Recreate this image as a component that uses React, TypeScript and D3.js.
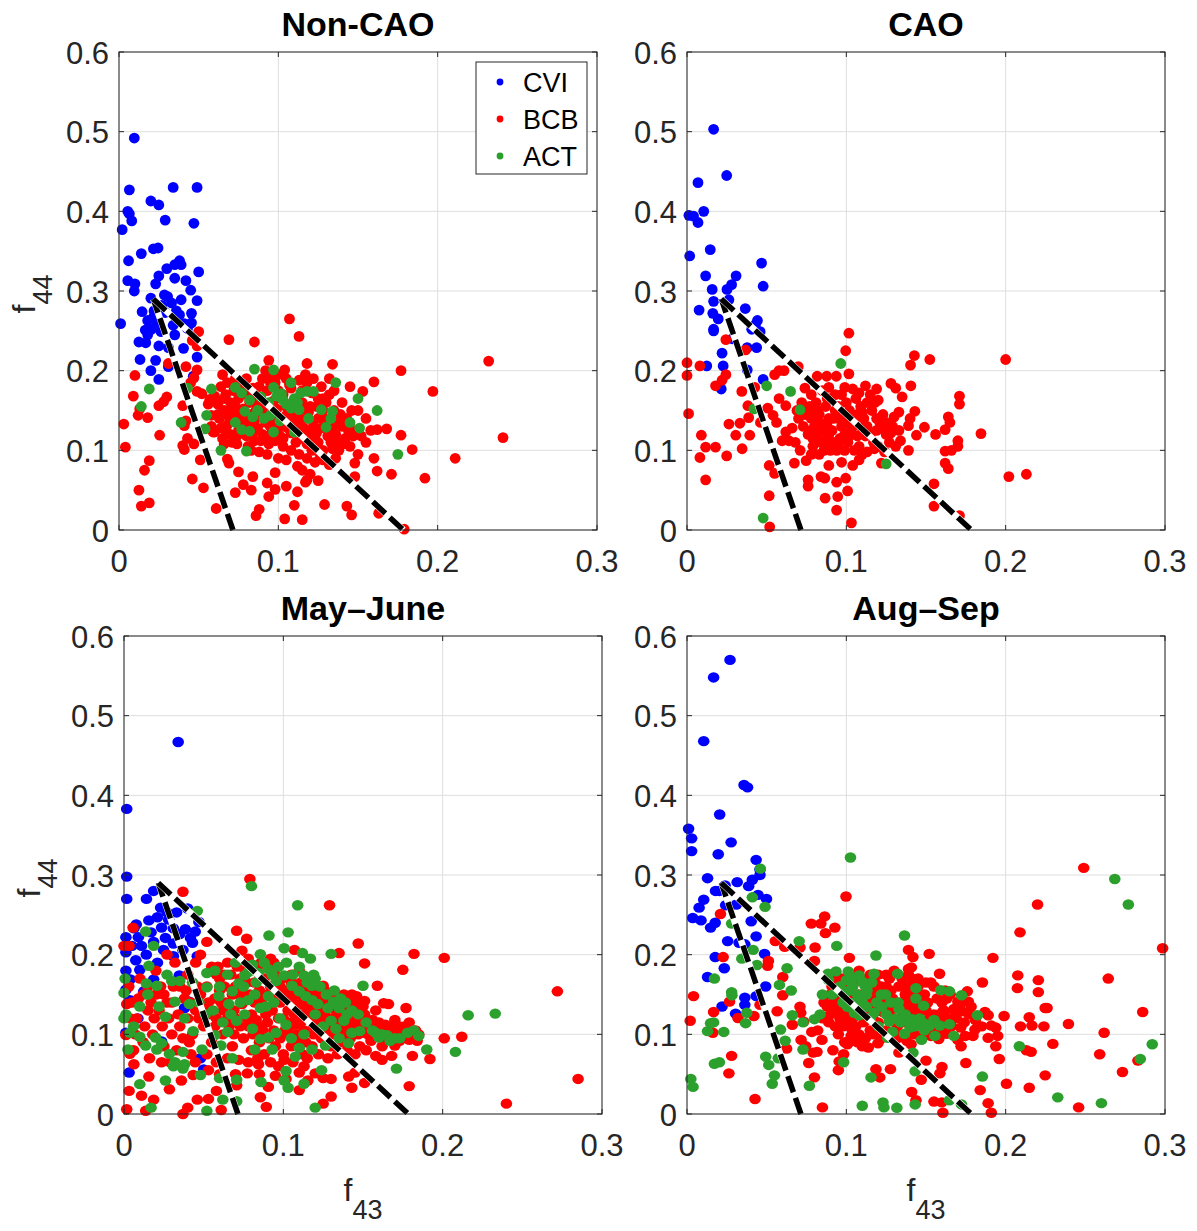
import React from 'react';
import * as d3 from 'd3';

type P = [number, number];

// ---------- shared axis / legend data ----------
const xTicks = [0, 0.1, 0.2, 0.3];
const yTicks = [0, 0.1, 0.2, 0.3, 0.4, 0.5, 0.6];
const seriesNames = ['CVI', 'BCB', 'ACT'];
const seriesColors = ['#0000ff', '#ff0000', '#2ca02c'];
const panelTitles = ['Non-CAO', 'CAO', 'May\u2013June', 'Aug\u2013Sep'];
const triangleApex: P = [0.0215, 0.29];
const triangleLeftBase: P = [0.0715, 0];
const triangleRightBase: P = [0.1785, 0];

// ---------- Non-CAO ----------
const nonCaoCVI: P[] = [
  [0.0096,0.492],[0.0065,0.427],[0.034,0.430],[0.049,0.430],[0.0055,0.400],[0.0065,0.397],[0.008,0.388],[0.020,0.413],[0.025,0.408],[0.029,0.389],[0.047,0.385],[0.002,0.377],[0.014,0.347],[0.006,0.338],[0.0216,0.353],[0.0245,0.354],[0.030,0.328],[0.035,0.333],[0.038,0.338],[0.039,0.333],[0.050,0.324],[0.0055,0.313],[0.010,0.309],[0.0096,0.300],[0.025,0.319],[0.023,0.309],[0.035,0.316],[0.042,0.313],[0.045,0.301],[0.0285,0.295],[0.020,0.291],[0.0305,0.293],[0.039,0.289],[0.049,0.288],[0.001,0.259],[0.0145,0.274],[0.0216,0.267],[0.029,0.273],[0.036,0.275],[0.038,0.270],[0.0455,0.272],[0.018,0.263],[0.024,0.260],[0.041,0.259],[0.0455,0.260],[0.0165,0.251],[0.0205,0.252],[0.035,0.245],[0.043,0.253],[0.0125,0.236],[0.0168,0.235],[0.025,0.231],[0.031,0.229],[0.0405,0.228],[0.049,0.217],[0.0132,0.214],[0.023,0.213],[0.020,0.200],[0.025,0.189],[0.031,0.205],[0.0466,0.193],[0.0264,0.249],[0.034,0.257],[0.027,0.282],[0.033,0.285],[0.022,0.275],[0.018,0.245],[0.037,0.262]
];
const nonCaoBCB: P[] = [
  [0.107,0.265],[0.113,0.243],[0.085,0.236],[0.069,0.239],[0.232,0.212],[0.177,0.200],[0.197,0.174],[0.241,0.116],[0.211,0.090],[0.184,0.101],[0.192,0.065],[0.179,0.001],[0.160,0.186],[0.153,0.174],[0.145,0.180],[0.134,0.208],[0.118,0.209],[0.094,0.213],[0.104,0.201],[0.168,0.127],[0.177,0.119],[0.171,0.070],[0.162,0.074],[0.160,0.090],[0.162,0.126],[0.148,0.084],[0.148,0.067],[0.143,0.030],[0.146,0.019],[0.163,0.021],[0.129,0.032],[0.115,0.013],[0.104,0.014],[0.110,0.031],[0.086,0.018],[0.088,0.026],[0.093,0.059],[0.094,0.042],[0.098,0.051],[0.098,0.072],[0.084,0.067],[0.078,0.057],[0.083,0.050],[0.073,0.047],[0.075,0.073],[0.068,0.089],[0.069,0.084],[0.061,0.027],[0.053,0.053],[0.046,0.064],[0.051,0.088],[0.041,0.101],[0.040,0.106],[0.043,0.115],[0.047,0.108],[0.059,0.123],[0.042,0.137],[0.040,0.156],[0.041,0.131],[0.019,0.087],[0.016,0.075],[0.0125,0.050],[0.014,0.030],[0.019,0.034],[0.0255,0.119],[0.018,0.141],[0.012,0.144],[0.013,0.152],[0.009,0.168],[0.010,0.194],[0.003,0.133],[0.004,0.104],[0.025,0.156],[0.028,0.161],[0.030,0.167],[0.031,0.209],[0.042,0.205],[0.049,0.201],[0.050,0.249],[0.049,0.231],[0.046,0.238],[0.049,0.174],[0.052,0.171],[0.045,0.185],[0.047,0.191],[0.058,0.130],[0.058,0.144],[0.056,0.158],[0.057,0.164],
  [0.115,0.075],[0.118,0.063],[0.105,0.055],[0.112,0.048],[0.128,0.088],[0.134,0.102],
  [0.065,0.195],[0.068,0.185],[0.072,0.175],[0.075,0.165],[0.070,0.160],[0.066,0.150],[0.063,0.140],[0.068,0.132],[0.072,0.145],[0.078,0.152],[0.082,0.160],[0.085,0.170],[0.088,0.180],[0.090,0.190],[0.092,0.200],[0.095,0.195],[0.098,0.185],[0.100,0.175],[0.102,0.165],[0.105,0.155],[0.108,0.145],[0.110,0.135],[0.112,0.125],[0.115,0.115],[0.118,0.108],[0.120,0.120],[0.122,0.130],[0.125,0.140],[0.128,0.150],[0.130,0.160],[0.132,0.170],[0.127,0.180],[0.122,0.190],[0.118,0.185],[0.115,0.175],[0.112,0.165],[0.110,0.155],[0.106,0.148],[0.100,0.140],[0.095,0.130],[0.090,0.120],[0.085,0.112],[0.080,0.118],[0.075,0.125],[0.070,0.120],[0.065,0.115],[0.062,0.158],[0.060,0.168],[0.078,0.138],[0.083,0.145],[0.088,0.150],[0.093,0.158],[0.097,0.162],[0.103,0.170],[0.108,0.178],[0.113,0.188],[0.117,0.195],[0.098,0.112],[0.103,0.105],[0.108,0.100],[0.113,0.095],[0.118,0.090],[0.123,0.085],[0.128,0.100],[0.133,0.110],[0.136,0.120],[0.140,0.130],[0.143,0.140],[0.146,0.150],[0.149,0.125],[0.152,0.118],[0.155,0.110],[0.138,0.100],[0.142,0.115],[0.130,0.128],[0.125,0.110],[0.118,0.140],[0.113,0.148],[0.108,0.122],[0.103,0.130],[0.096,0.145],[0.092,0.135],[0.087,0.128],[0.082,0.133],[0.077,0.148],[0.073,0.155],[0.069,0.142],[0.064,0.128],[0.060,0.123],[0.066,0.108],[0.071,0.110],[0.081,0.105],[0.088,0.098],[0.094,0.108],[0.100,0.090],[0.105,0.088],[0.112,0.080],[0.120,0.070],[0.125,0.062],[0.117,0.060],[0.132,0.082],[0.136,0.090],[0.145,0.105],[0.150,0.095],[0.135,0.150],[0.140,0.160],[0.132,0.190],[0.125,0.165],[0.120,0.155],[0.115,0.160],[0.105,0.190],[0.100,0.195],[0.093,0.175],[0.087,0.160],[0.080,0.170],[0.078,0.182],[0.073,0.190],[0.080,0.190],[0.067,0.125],[0.086,0.140],[0.091,0.145],[0.099,0.152],[0.111,0.110],[0.124,0.122],[0.137,0.135],[0.144,0.125],[0.155,0.140],[0.158,0.125],[0.150,0.150],
  [0.062,0.145],[0.066,0.165],[0.071,0.138],[0.074,0.118],[0.079,0.128],[0.084,0.122],[0.089,0.112],[0.094,0.118],[0.099,0.128],[0.104,0.142],[0.109,0.160],[0.114,0.155],[0.119,0.148],[0.124,0.155],[0.129,0.140],[0.134,0.128],[0.139,0.145],[0.141,0.108],[0.126,0.095],[0.121,0.100],[0.116,0.128],[0.111,0.145],[0.106,0.128],[0.101,0.118],[0.096,0.138],[0.091,0.155],[0.086,0.150],[0.081,0.145],[0.076,0.138],[0.071,0.150],[0.067,0.170],[0.064,0.180],[0.074,0.108],[0.083,0.100],[0.093,0.095],[0.103,0.115],[0.108,0.135],[0.113,0.138],[0.118,0.120],[0.123,0.115],[0.131,0.118],[0.137,0.110],[0.147,0.118],[0.127,0.128],[0.097,0.150],[0.089,0.165],[0.084,0.178],[0.095,0.185],[0.107,0.182],[0.121,0.172],[0.128,0.165],[0.135,0.175]
];
const nonCaoACT: P[] = [
  [0.019,0.177],[0.014,0.155],[0.039,0.135],[0.043,0.178],[0.058,0.177],[0.055,0.144],[0.054,0.127],[0.064,0.100],[0.080,0.099],[0.085,0.202],[0.097,0.201],[0.073,0.179],[0.077,0.172],[0.082,0.163],[0.079,0.149],[0.073,0.135],[0.077,0.126],[0.082,0.124],[0.084,0.142],[0.089,0.167],[0.094,0.160],[0.097,0.179],[0.102,0.171],[0.103,0.163],[0.108,0.185],[0.110,0.165],[0.114,0.172],[0.118,0.174],[0.122,0.174],[0.108,0.153],[0.113,0.151],[0.101,0.137],[0.097,0.123],[0.110,0.123],[0.119,0.140],[0.127,0.151],[0.134,0.149],[0.136,0.185],[0.130,0.129],[0.133,0.140],[0.145,0.135],[0.150,0.165],[0.151,0.128],[0.162,0.150],[0.175,0.095],[0.095,0.144],[0.091,0.140],[0.105,0.158],[0.112,0.160],[0.099,0.168],[0.087,0.150]
];

// ---------- CAO ----------
const caoCVI: P[] = [
  [0.0167,0.503],[0.0249,0.445],[0.0069,0.436],[0.0012,0.395],[0.0041,0.394],[0.0069,0.386],[0.0105,0.400],[0.0017,0.344],[0.0146,0.352],[0.0468,0.335],[0.0478,0.306],[0.0117,0.319],[0.0308,0.319],[0.0158,0.302],[0.0251,0.302],[0.028,0.308],[0.0167,0.287],[0.0263,0.289],[0.0076,0.276],[0.0366,0.278],[0.0162,0.272],[0.0196,0.265],[0.0167,0.252],[0.0167,0.250],[0.0442,0.263],[0.043,0.258],[0.0406,0.252],[0.0459,0.249],[0.0284,0.240],[0.0378,0.229],[0.0437,0.229],[0.022,0.222],[0.0124,0.206],[0.0227,0.206],[0.0378,0.201],[0.0478,0.189],[0.0215,0.177]
];
const caoBCB: P[] = [
  [0.1016,0.247],[0.0996,0.225],[0.1427,0.219],[0.1524,0.214],[0.1403,0.207],[0.200,0.214],[0.1016,0.196],[0.0244,0.239],[0.0368,0.226],[0.0,0.210],[0.0,0.194],[0.0081,0.206],[0.001,0.146],[0.009,0.119],[0.0081,0.091],[0.0117,0.104],[0.0179,0.104],[0.0117,0.063],[0.0249,0.093],[0.0346,0.102],[0.0179,0.181],[0.022,0.188],[0.0244,0.195],[0.0263,0.133],[0.0306,0.119],[0.0344,0.174],[0.0394,0.119],[0.0332,0.134],[0.0382,0.156],[0.0387,0.141],[0.0425,0.179],[0.0461,0.135],[0.0507,0.153],[0.054,0.144],[0.0516,0.081],[0.055,0.071],[0.0516,0.043],[0.0519,0.004],[0.0562,0.135],[0.055,0.195],[0.0578,0.200],[0.0609,0.200],[0.0578,0.165],[0.062,0.156],[0.062,0.123],[0.0597,0.112],[0.064,0.112],[0.0674,0.084],[0.0698,0.205],[0.0748,0.087],[0.076,0.063],[0.076,0.055],[0.0867,0.040],[0.0841,0.067],[0.0865,0.065],[0.089,0.081],[0.0939,0.060],[0.0946,0.042],[0.0939,0.025],[0.0996,0.065],[0.1008,0.049],[0.1032,0.009],[0.097,0.085],[0.104,0.081],[0.108,0.088],[0.110,0.095],[0.122,0.084],[0.1176,0.102],[0.139,0.100],[0.134,0.112],[0.144,0.119],[0.149,0.129],[0.156,0.120],[0.162,0.126],[0.165,0.135],[0.164,0.142],[0.162,0.099],[0.166,0.100],[0.170,0.105],[0.170,0.112],[0.171,0.158],[0.171,0.168],[0.1845,0.121],[0.162,0.084],[0.164,0.077],[0.155,0.058],[0.155,0.030],[0.171,0.018],[0.202,0.067],[0.213,0.070],[0.128,0.184],[0.131,0.178],[0.135,0.167],[0.1405,0.181],[0.143,0.149],[0.140,0.140],[0.139,0.131],[0.133,0.148],[0.130,0.142],[0.120,0.163],[0.119,0.177],[0.112,0.181],[0.108,0.172],[0.104,0.177],[0.099,0.179],[0.0937,0.193],[0.0877,0.193],[0.0817,0.193],[0.089,0.179],
  [0.072,0.160],[0.075,0.150],[0.078,0.140],[0.080,0.130],[0.082,0.120],[0.084,0.110],[0.086,0.100],[0.076,0.120],[0.073,0.130],[0.070,0.140],[0.068,0.110],[0.071,0.100],[0.079,0.105],[0.083,0.145],[0.087,0.155],[0.090,0.165],[0.093,0.150],[0.095,0.140],[0.097,0.130],[0.099,0.120],[0.101,0.110],[0.103,0.125],[0.105,0.135],[0.107,0.145],[0.109,0.155],[0.111,0.140],[0.113,0.130],[0.115,0.120],[0.117,0.110],[0.119,0.125],[0.121,0.135],[0.123,0.145],[0.125,0.120],[0.127,0.110],[0.129,0.130],[0.091,0.125],[0.088,0.135],[0.085,0.125],[0.081,0.160],[0.078,0.170],[0.074,0.178],[0.092,0.110],[0.094,0.100],[0.088,0.115],[0.097,0.170],[0.100,0.160],[0.102,0.150],[0.106,0.165],[0.112,0.118],[0.108,0.105],[0.113,0.098],[0.120,0.105],[0.124,0.098],[0.131,0.105],[0.133,0.125],[0.118,0.160],[0.115,0.170],[0.066,0.128],[0.069,0.150],[0.079,0.115],[0.083,0.095],[0.089,0.140],[0.096,0.115],[0.104,0.140],[0.110,0.128],[0.126,0.132],[0.082,0.150],[0.078,0.125],
  [0.074,0.145],[0.077,0.155],[0.080,0.145],[0.083,0.135],[0.086,0.128],[0.089,0.120],[0.092,0.140],[0.095,0.155],[0.098,0.145],[0.101,0.135],[0.104,0.130],[0.107,0.118],[0.110,0.148],[0.113,0.160],[0.116,0.150],[0.119,0.140],[0.122,0.128],[0.125,0.135],[0.128,0.122],[0.087,0.110],[0.090,0.100],[0.095,0.108],[0.099,0.100],[0.102,0.118],[0.105,0.100],[0.082,0.112],[0.078,0.095],[0.093,0.170],[0.088,0.165],[0.085,0.175]
];
const caoACT: P[] = [
  [0.050,0.181],[0.065,0.174],[0.071,0.151],[0.042,0.152],[0.0965,0.209],[0.125,0.083],[0.0478,0.015]
];

// ---------- May-June ----------
const mayJuneCVI: P[] = [
  [0.034,0.467],[0.0017,0.383],[0.0017,0.298],[0.0017,0.270],[0.0186,0.280],[0.0141,0.270],[0.023,0.259],[0.027,0.253],[0.040,0.258],[0.033,0.253],[0.021,0.247],[0.0156,0.243],[0.0077,0.238],[0.0062,0.233],[0.0012,0.222],[0.0012,0.203],[0.005,0.211],[0.011,0.211],[0.0236,0.234],[0.031,0.233],[0.0385,0.232],[0.0447,0.229],[0.047,0.241],[0.0417,0.221],[0.026,0.221],[0.0186,0.216],[0.0248,0.206],[0.031,0.214],[0.037,0.206],[0.014,0.200],[0.0074,0.193],[0.0012,0.180],[0.004,0.169],[0.0099,0.181],[0.021,0.190],[0.031,0.198],[0.046,0.198],[0.0012,0.156],[0.0037,0.143],[0.0087,0.120],[0.0012,0.102],[0.0032,0.052],[0.050,0.056],[0.0236,0.091],[0.041,0.141],[0.0186,0.169],[0.0124,0.154],[0.0347,0.174],[0.038,0.133],[0.048,0.070],[0.028,0.244],[0.035,0.226],[0.043,0.215],[0.017,0.228],[0.009,0.222]
];
const mayJuneBCB: P[] = [
  [0.079,0.295],[0.037,0.279],[0.129,0.262],[0.147,0.214],[0.135,0.202],[0.182,0.201],[0.201,0.196],[0.175,0.181],[0.151,0.189],[0.159,0.161],[0.125,0.161],[0.272,0.154],[0.212,0.097],[0.201,0.095],[0.285,0.044],[0.240,0.013],[0.192,0.069],[0.181,0.073],[0.179,0.035],[0.168,0.073],[0.162,0.068],[0.163,0.139],[0.166,0.138],[0.177,0.133],[0.179,0.115],[0.0707,0.230],[0.077,0.220],[0.052,0.216],[0.107,0.206],[0.0057,0.234],[0.0,0.211],[0.0032,0.211],[0.0017,0.138],[0.0012,0.099],[0.0017,0.006],[0.0136,0.004],[0.0186,0.018],[0.037,0.0],[0.040,0.008],[0.046,0.018],[0.053,0.019],[0.058,0.029],[0.061,0.005],[0.0707,0.036],[0.0774,0.051],[0.0856,0.021],[0.0893,0.009],[0.0906,0.034],[0.1017,0.044],[0.110,0.030],[0.1154,0.042],[0.120,0.051],[0.125,0.013],[0.130,0.022],[0.130,0.044],[0.141,0.047],[0.143,0.033],[0.151,0.039],[0.145,0.052],[0.0032,0.029],[0.011,0.023],[0.0285,0.031],[0.036,0.042],[0.0434,0.049],[0.0156,0.047],[0.0062,0.0625],[0.0037,0.0755],[0.0236,0.065],[0.0447,0.065],[0.053,0.055],[0.0844,0.0625],[0.1005,0.068],[0.113,0.060],[0.158,0.073],[0.170,0.086],
  [0.010,0.170],[0.015,0.160],[0.020,0.180],[0.025,0.150],[0.030,0.140],[0.035,0.160],[0.040,0.175],[0.045,0.190],[0.048,0.200],[0.055,0.185],[0.052,0.160],[0.057,0.145],[0.060,0.170],[0.065,0.190],[0.067,0.175],[0.070,0.160],[0.072,0.150],[0.062,0.130],[0.058,0.120],[0.050,0.110],[0.045,0.130],[0.040,0.120],[0.035,0.110],[0.028,0.120],[0.022,0.130],[0.018,0.100],[0.012,0.090],[0.025,0.085],[0.033,0.080],[0.042,0.075],[0.055,0.090],[0.062,0.100],[0.068,0.085],[0.075,0.095],[0.078,0.110],[0.080,0.125],[0.082,0.140],[0.085,0.155],[0.088,0.170],[0.090,0.185],[0.092,0.195],[0.095,0.175],[0.098,0.160],[0.100,0.145],[0.103,0.130],[0.105,0.115],[0.108,0.100],[0.110,0.090],[0.113,0.105],[0.115,0.120],[0.118,0.135],[0.120,0.150],[0.123,0.140],[0.126,0.125],[0.128,0.110],[0.131,0.100],[0.134,0.115],[0.137,0.130],[0.140,0.145],[0.142,0.120],[0.145,0.105],[0.148,0.115],[0.151,0.125],[0.154,0.110],[0.157,0.100],[0.160,0.115],[0.163,0.105],[0.166,0.095],[0.169,0.110],[0.172,0.100],[0.175,0.105],[0.178,0.095],[0.181,0.100],[0.184,0.092],[0.090,0.115],[0.093,0.130],[0.096,0.100],[0.085,0.090],[0.080,0.080],[0.088,0.075],[0.095,0.085],[0.100,0.075],[0.105,0.085],[0.112,0.075],[0.118,0.085],[0.124,0.095],[0.130,0.085],[0.136,0.090],[0.142,0.095],[0.148,0.085],[0.155,0.092],[0.162,0.085],[0.105,0.165],[0.110,0.180],[0.112,0.160],[0.116,0.145],[0.126,0.155],[0.132,0.145],[0.138,0.150],[0.144,0.140],[0.150,0.135],[0.146,0.148],[0.074,0.205],[0.078,0.195],[0.083,0.183],[0.070,0.120],[0.066,0.110],[0.060,0.155],[0.048,0.150],[0.038,0.145],[0.032,0.190],[0.027,0.200],[0.015,0.130],[0.008,0.120],[0.005,0.140],[0.003,0.160],[0.012,0.150],
  [0.064,0.140],[0.069,0.130],[0.074,0.138],[0.077,0.165],[0.083,0.118],[0.087,0.105],[0.091,0.095],[0.097,0.120],[0.101,0.105],[0.106,0.140],[0.109,0.125],[0.114,0.090],[0.119,0.100],[0.121,0.115],[0.125,0.105],[0.129,0.120],[0.133,0.130],[0.135,0.105],[0.139,0.110],[0.141,0.100],[0.144,0.130],[0.147,0.100],[0.150,0.110],[0.153,0.100],[0.156,0.118],[0.159,0.108],[0.161,0.098],[0.164,0.112],[0.167,0.102],[0.170,0.098],[0.173,0.092],[0.176,0.110],[0.179,0.105],[0.182,0.098],[0.185,0.100],[0.098,0.140],[0.102,0.155],[0.108,0.150],[0.114,0.135],[0.120,0.130],[0.127,0.140],[0.133,0.150],[0.139,0.140],[0.143,0.150],[0.090,0.150],[0.086,0.135],[0.079,0.150],[0.073,0.170],[0.068,0.150],[0.063,0.160],[0.058,0.175],[0.053,0.140],[0.047,0.120],[0.043,0.100],[0.037,0.095],[0.030,0.100],[0.024,0.110],[0.020,0.150],[0.017,0.140],[0.007,0.100],[0.006,0.080],[0.016,0.070],[0.029,0.065],[0.041,0.090],[0.052,0.075],[0.058,0.065],[0.065,0.070],[0.072,0.068],[0.078,0.065],[0.084,0.070],[0.092,0.065],[0.097,0.060],[0.106,0.065],[0.115,0.070],[0.122,0.075],[0.128,0.070],[0.134,0.075],[0.140,0.080],[0.145,0.075],[0.152,0.080],[0.060,0.050],[0.070,0.050],[0.085,0.050],[0.095,0.048],[0.110,0.052],[0.125,0.045],
  [0.100,0.120],[0.104,0.110],[0.107,0.125],[0.111,0.115],[0.115,0.130],[0.119,0.110],[0.122,0.122],[0.126,0.118],[0.130,0.110],[0.133,0.122],[0.136,0.118],[0.140,0.125],[0.143,0.112],[0.146,0.125],[0.149,0.102],[0.152,0.118],[0.155,0.104],[0.158,0.112],[0.161,0.106],[0.164,0.100],[0.167,0.108],[0.170,0.104],[0.173,0.110],[0.176,0.100],[0.179,0.093],[0.131,0.138],[0.136,0.142],[0.141,0.135],[0.146,0.138],[0.151,0.142],[0.128,0.148],[0.124,0.132],[0.117,0.125],[0.112,0.140],[0.108,0.112],[0.103,0.100],[0.098,0.095],[0.094,0.105],[0.089,0.125],[0.085,0.110],[0.081,0.100],[0.077,0.120],[0.073,0.110],[0.069,0.100],[0.065,0.120],[0.061,0.140],[0.057,0.110],[0.054,0.125],[0.050,0.135],[0.046,0.160],[0.042,0.140],[0.039,0.155],[0.034,0.125],[0.031,0.160],[0.027,0.140],[0.023,0.160],[0.019,0.120],[0.013,0.110],[0.009,0.145],[0.004,0.120],[0.075,0.150],[0.082,0.165],[0.087,0.145],[0.092,0.160],[0.097,0.150],[0.103,0.145],[0.108,0.135],[0.113,0.150],[0.118,0.145],[0.123,0.150],[0.059,0.185],[0.063,0.175],[0.071,0.185],[0.076,0.180],[0.086,0.190],[0.094,0.190],[0.099,0.170],[0.105,0.175],[0.111,0.165],[0.117,0.155],[0.158,0.130],[0.162,0.095],[0.170,0.118],[0.177,0.098],[0.183,0.105]
];
const mayJuneACT: P[] = [
  [0.080,0.286],[0.109,0.262],[0.103,0.228],[0.091,0.224],[0.1005,0.208],[0.112,0.202],[0.117,0.195],[0.130,0.201],[0.046,0.255],[0.0136,0.229],[0.0186,0.211],[0.0156,0.186],[0.120,0.170],[0.113,0.174],[0.150,0.161],[0.216,0.124],[0.233,0.126],[0.208,0.078],[0.190,0.081],[0.182,0.105],[0.171,0.057],[0.120,0.008],[0.052,0.004],[0.017,0.008],[0.0099,0.0375],[0.026,0.042],[0.062,0.018],[0.0707,0.016],[0.0707,0.043],[0.086,0.040],[0.1005,0.042],[0.103,0.033],[0.113,0.038],[0.124,0.055],[0.1075,0.072],[0.1017,0.054],[0.060,0.045],[0.031,0.060],[0.037,0.057],[0.0007,0.170],[0.0,0.152],[0.0,0.120],[0.0012,0.125],[0.0037,0.102],[0.0025,0.081],[0.0099,0.097],[0.0136,0.086],[0.0198,0.096],[0.0206,0.081],[0.0236,0.089],[0.0285,0.0755],[0.032,0.065],[0.037,0.078],[0.038,0.0625],[0.049,0.081],[0.048,0.049],[0.026,0.122],[0.022,0.135],[0.0206,0.161],[0.014,0.164],[0.0099,0.135],[0.030,0.167],[0.035,0.167],[0.032,0.141],[0.038,0.120],[0.041,0.138],[0.0434,0.104],[0.052,0.159],[0.057,0.180],[0.052,0.177],[0.0596,0.148],[0.0658,0.138],[0.068,0.154],[0.072,0.164],[0.0757,0.174],[0.0806,0.1875],[0.0856,0.2005],[0.0844,0.177],[0.0906,0.182],[0.0955,0.167],[0.1005,0.174],[0.1055,0.161],[0.110,0.154],[0.114,0.148],[0.118,0.143],[0.1216,0.138],[0.118,0.161],[0.128,0.133],[0.1315,0.141],[0.135,0.133],[0.140,0.125],[0.138,0.117],[0.130,0.117],[0.133,0.107],[0.143,0.102],[0.148,0.104],[0.141,0.089],[0.160,0.096],[0.165,0.099],[0.170,0.095],[0.158,0.102],[0.1265,0.086],[0.118,0.081],[0.110,0.083],[0.1017,0.112],[0.0955,0.102],[0.0906,0.096],[0.093,0.081],[0.0856,0.094],[0.082,0.081],[0.0806,0.107],[0.0757,0.125],[0.0707,0.117],[0.078,0.143],[0.0856,0.133],[0.0906,0.148],[0.0608,0.086],[0.065,0.103],[0.068,0.070],[0.057,0.099],[0.051,0.125],
  [0.060,0.160],[0.065,0.175],[0.070,0.190],[0.075,0.160],[0.078,0.178],[0.083,0.165],[0.088,0.190],[0.093,0.175],[0.097,0.185],[0.102,0.190],[0.106,0.175],[0.110,0.185],[0.115,0.165],[0.119,0.175],[0.123,0.160],[0.127,0.150],[0.132,0.155],[0.136,0.145],[0.139,0.140],[0.143,0.130],[0.147,0.125],[0.152,0.115],[0.156,0.105],[0.162,0.100],[0.167,0.092],[0.173,0.095],[0.178,0.102],[0.185,0.098],[0.098,0.120],[0.094,0.140],[0.089,0.135],[0.082,0.150],[0.073,0.140],[0.067,0.125],[0.062,0.115],[0.056,0.130],[0.047,0.140],[0.043,0.165],[0.027,0.175],[0.015,0.150],[0.006,0.110],[0.120,0.125],[0.125,0.110],[0.113,0.100],[0.105,0.095],[0.135,0.095]
];

// ---------- Aug-Sep ----------
const augSepCVI: P[] = [
  [0.027,0.570],[0.0167,0.548],[0.0105,0.468],[0.0358,0.413],[0.038,0.410],[0.0205,0.376],[0.001,0.358],[0.0029,0.346],[0.0029,0.330],[0.0277,0.341],[0.0196,0.326],[0.0434,0.319],[0.0458,0.307],[0.0458,0.300],[0.0129,0.296],[0.0315,0.291],[0.0387,0.286],[0.041,0.294],[0.0239,0.287],[0.0179,0.280],[0.0203,0.280],[0.0446,0.275],[0.0499,0.270],[0.0105,0.269],[0.0243,0.262],[0.031,0.263],[0.0076,0.259],[0.0036,0.246],[0.0088,0.243],[0.0403,0.242],[0.0177,0.240],[0.0148,0.234],[0.0434,0.223],[0.0255,0.217],[0.0327,0.215],[0.0363,0.213],[0.0487,0.201],[0.0177,0.197],[0.0234,0.183],[0.0129,0.172],[0.0494,0.160],[0.0363,0.146],[0.0363,0.137],[0.022,0.135],[0.0305,0.126],[0.0434,0.148]
];
const augSepBCB: P[] = [
  [0.249,0.309],[0.220,0.263],[0.209,0.228],[0.2985,0.208],[0.192,0.196],[0.2076,0.174],[0.2205,0.168],[0.2644,0.170],[0.2074,0.158],[0.2205,0.153],[0.1854,0.165],[0.2248,0.133],[0.226,0.133],[0.199,0.123],[0.2148,0.1215],[0.2093,0.110],[0.2165,0.111],[0.224,0.110],[0.2394,0.113],[0.286,0.128],[0.2618,0.102],[0.2296,0.088],[0.213,0.080],[0.216,0.078],[0.259,0.075],[0.196,0.069],[0.2248,0.0485],[0.2148,0.033],[0.2005,0.038],[0.2733,0.0527],[0.283,0.067],[0.2458,0.0083],[0.184,0.030],[0.189,0.0136],[0.191,0.0016],[0.1606,0.0016],[0.1599,0.0146],[0.155,0.0156],[0.175,0.064],[0.172,0.085],[0.189,0.124],[0.1938,0.1085],[0.195,0.098],[0.189,0.0955],[0.1938,0.085],[0.191,0.111],[0.1807,0.106],[0.160,0.059],[0.1587,0.051],[0.150,0.067],[0.147,0.043],[0.141,0.0276],[0.1437,0.0172],[0.1406,0.0876],[0.152,0.201],[0.1585,0.176],[0.139,0.206],[0.1408,0.184],[0.1418,0.197],[0.139,0.182],[0.0998,0.273],[0.0864,0.248],[0.084,0.239],[0.078,0.239],[0.0928,0.234],[0.0869,0.227],[0.0804,0.209],[0.0709,0.209],[0.0613,0.210],[0.0554,0.217],[0.1019,0.196],[0.080,0.192],[0.021,0.251],[0.0227,0.197],[0.0041,0.148],[0.002,0.117],[0.0167,0.128],[0.0162,0.102],[0.0267,0.141],[0.032,0.1205],[0.028,0.073],[0.0263,0.051],[0.0427,0.0188],[0.042,0.123],[0.0458,0.137],[0.0506,0.186],[0.0511,0.192],[0.0601,0.172],[0.0566,0.129],[0.0601,0.149],[0.0661,0.112],[0.0625,0.082],[0.0716,0.093],[0.0709,0.1346],[0.0714,0.127],[0.0733,0.116],[0.0783,0.103],[0.0745,0.085],[0.0792,0.077],[0.0764,0.064],[0.080,0.046],[0.085,0.0083],[0.0816,0.078],[0.0847,0.093],[0.0916,0.080],[0.0955,0.066],[0.095,0.055],[0.0983,0.075],[0.1007,0.0876],[0.105,0.092],[0.110,0.085],[0.1138,0.0835],[0.1198,0.0887],[0.1277,0.098],[0.133,0.077],[0.1186,0.0563],[0.121,0.0459],[0.1277,0.0563],[0.1723,0.129],[0.1759,0.154],[0.1766,0.141],[0.1783,0.1346],[0.170,0.141],[0.1652,0.150],[0.1675,0.132],[0.1616,0.129],[0.1628,0.119],[0.1652,0.112],[0.1718,0.1085],[0.1747,0.098],[0.1795,0.098],[0.170,0.093],[0.1628,0.1007],[0.158,0.094],
  [0.090,0.150],[0.092,0.140],[0.094,0.130],[0.096,0.120],[0.098,0.110],[0.095,0.100],[0.093,0.110],[0.090,0.125],[0.088,0.135],[0.100,0.140],[0.102,0.130],[0.104,0.120],[0.106,0.110],[0.108,0.100],[0.110,0.125],[0.112,0.135],[0.114,0.145],[0.116,0.155],[0.118,0.165],[0.120,0.175],[0.122,0.160],[0.124,0.150],[0.126,0.140],[0.128,0.130],[0.130,0.120],[0.132,0.110],[0.134,0.100],[0.136,0.125],[0.138,0.135],[0.140,0.145],[0.142,0.155],[0.144,0.165],[0.146,0.150],[0.148,0.140],[0.150,0.130],[0.152,0.120],[0.154,0.110],[0.156,0.100],[0.158,0.125],[0.160,0.140],[0.162,0.155],[0.155,0.160],[0.150,0.165],[0.145,0.170],[0.135,0.170],[0.130,0.180],[0.125,0.175],[0.115,0.175],[0.110,0.170],[0.105,0.165],[0.100,0.160],[0.097,0.170],[0.108,0.150],[0.118,0.140],[0.128,0.155],[0.138,0.160],[0.148,0.110],[0.143,0.100],[0.138,0.092],[0.125,0.105],[0.120,0.115],[0.115,0.105],[0.112,0.095],[0.103,0.098],[0.099,0.090],[0.118,0.128],[0.134,0.140],[0.143,0.125],[0.165,0.120],[0.168,0.130],[0.158,0.110],[0.085,0.120],[0.082,0.105],
  [0.091,0.160],[0.093,0.170],[0.095,0.145],[0.097,0.135],[0.099,0.125],[0.101,0.115],[0.103,0.108],[0.105,0.150],[0.107,0.140],[0.109,0.130],[0.111,0.115],[0.113,0.125],[0.115,0.135],[0.117,0.118],[0.119,0.150],[0.121,0.140],[0.123,0.128],[0.125,0.160],[0.127,0.120],[0.129,0.145],[0.131,0.135],[0.133,0.160],[0.135,0.115],[0.137,0.150],[0.139,0.125],[0.141,0.170],[0.143,0.135],[0.145,0.160],[0.147,0.130],[0.149,0.150],[0.151,0.140],[0.153,0.165],[0.155,0.125],[0.157,0.145],[0.159,0.118],[0.161,0.130],[0.163,0.145],[0.166,0.110],[0.169,0.120],[0.171,0.135],[0.174,0.115],[0.177,0.125],[0.181,0.118],[0.185,0.110],[0.187,0.128],[0.096,0.160],[0.102,0.175],[0.108,0.180],[0.113,0.165],[0.127,0.170],[0.139,0.175],[0.132,0.095],[0.122,0.095],[0.117,0.100],[0.107,0.090],[0.147,0.095],[0.153,0.098],[0.160,0.105],[0.086,0.140],[0.089,0.115]
];
const augSepACT: P[] = [
  [0.1026,0.322],[0.2685,0.295],[0.277,0.263],[0.046,0.308],[0.041,0.272],[0.049,0.260],[0.028,0.239],[0.0415,0.206],[0.0344,0.195],[0.0439,0.187],[0.0172,0.170],[0.028,0.153],[0.0282,0.149],[0.0375,0.127],[0.0368,0.114],[0.0148,0.114],[0.0167,0.115],[0.0129,0.104],[0.0231,0.103],[0.0172,0.063],[0.0203,0.065],[0.0024,0.044],[0.0038,0.034],[0.0494,0.072],[0.0513,0.0616],[0.0549,0.0485],[0.0535,0.038],[0.0573,0.070],[0.0587,0.106],[0.0616,0.092],[0.058,0.162],[0.0654,0.155],[0.0628,0.183],[0.0704,0.217],[0.0661,0.124],[0.0728,0.115],[0.0728,0.081],[0.0768,0.0355],[0.0983,0.065],[0.094,0.211],[0.085,0.150],[0.0885,0.176],[0.0835,0.125],[0.080,0.119],[0.1186,0.199],[0.1322,0.176],[0.1365,0.224],[0.110,0.0104],[0.123,0.0146],[0.1236,0.0083],[0.1317,0.0078],[0.1432,0.012],[0.1155,0.0459],[0.1432,0.0537],[0.1647,0.0172],[0.1723,0.012],[0.1854,0.047],[0.2086,0.085],[0.2327,0.0209],[0.2601,0.0136],[0.2845,0.069],[0.292,0.0876],[0.1823,0.124],[0.1723,0.149],[0.1647,0.154],[0.1592,0.1555],[0.1675,0.098],[0.1587,0.111],[0.1647,0.1127],[0.1485,0.136],[0.1437,0.158],[0.1437,0.145],[0.1485,0.114],[0.1472,0.093],[0.140,0.1085],[0.1365,0.1007],[0.1413,0.119],[0.133,0.132],[0.1325,0.140],[0.1246,0.150],[0.1222,0.1346],[0.1174,0.127],[0.1126,0.1346],[0.108,0.124],[0.105,0.127],[0.1007,0.1346],[0.0983,0.150],[0.1012,0.179],[0.1043,0.171],[0.108,0.174],[0.110,0.166],[0.1117,0.161],[0.1174,0.176],[0.1126,0.150],[0.0935,0.179],[0.0888,0.1685],[0.0912,0.150],[0.127,0.116],[0.129,0.103],[0.126,0.0955],[0.1556,0.098],[0.1418,0.077],
  [0.096,0.160],[0.100,0.168],[0.104,0.160],[0.107,0.150],[0.110,0.140],[0.113,0.155],[0.116,0.165],[0.119,0.140],[0.122,0.150],[0.125,0.125],[0.128,0.140],[0.131,0.120],[0.134,0.115],[0.137,0.125],[0.140,0.115],[0.143,0.110],[0.146,0.120],[0.149,0.105],[0.152,0.110],[0.155,0.118],[0.105,0.140],[0.115,0.120],[0.120,0.110],[0.098,0.140],[0.102,0.155]
];

const panelData = [
  [nonCaoCVI, nonCaoBCB, nonCaoACT],
  [caoCVI, caoBCB, caoACT],
  [mayJuneCVI, mayJuneBCB, mayJuneACT],
  [augSepCVI, augSepBCB, augSepACT],
];

// ---------- layout ----------
const layout = [
  { x0: 119, x1: 597, y0: 52, y1: 530, titleY: 36, legend: true, yLabel: true, xLabel: false, rx: 5.4, ry: 5.4 },
  { x0: 687, x1: 1165, y0: 52, y1: 530, titleY: 36, legend: false, yLabel: false, xLabel: false, rx: 5.4, ry: 5.4 },
  { x0: 124, x1: 602, y0: 636, y1: 1114, titleY: 620, legend: false, yLabel: true, xLabel: true, rx: 5.8, ry: 5.2 },
  { x0: 687, x1: 1165, y0: 636, y1: 1114, titleY: 620, legend: false, yLabel: false, xLabel: true, rx: 5.8, ry: 5.2 },
];

const FONT = '"Liberation Sans", Arial, Helvetica, sans-serif';
const AX = '#262626';

function Panel({ idx }: { idx: number }) {
  const L = layout[idx];
  const data = panelData[idx];
  const x = d3.scaleLinear().domain([0, 0.3]).range([L.x0, L.x1]);
  const y = d3.scaleLinear().domain([0, 0.6]).range([L.y1, L.y0]);
  const line = d3.line<P>().x(d => x(d[0])).y(d => y(d[1]));
  const leftPath = line([triangleLeftBase, triangleApex]) || '';
  const rightPath = line([triangleApex, triangleRightBase]) || '';
  const cx = (L.x0 + L.x1) / 2;
  const cy = (L.y0 + L.y1) / 2;
  const tickLen = 5;
  return (
    <g>
      <rect x={L.x0} y={L.y0} width={L.x1 - L.x0} height={L.y1 - L.y0} fill="#fff" />
      {xTicks.map(t => (
        <line key={'gx' + t} x1={x(t)} x2={x(t)} y1={L.y0} y2={L.y1} stroke="#dedede" strokeWidth={1} />
      ))}
      {yTicks.map(t => (
        <line key={'gy' + t} x1={L.x0} x2={L.x1} y1={y(t)} y2={y(t)} stroke="#dedede" strokeWidth={1} />
      ))}
      {data.map((pts, si) => (
        <g key={'s' + si} fill={seriesColors[si]}>
          {pts.map((p, i) => (
            <ellipse key={i} cx={x(p[0])} cy={y(p[1])} rx={L.rx} ry={L.ry} />
          ))}
        </g>
      ))}
      {[leftPath, rightPath].map((d, i) => (
        <g key={'tri' + i}>
          <path d={d} stroke="#fff" strokeWidth={6.5} fill="none" />
          <path d={d} stroke="#000" strokeWidth={5.5} strokeDasharray="17,6" fill="none" />
        </g>
      ))}
      <rect x={L.x0} y={L.y0} width={L.x1 - L.x0} height={L.y1 - L.y0} fill="none" stroke={AX} strokeWidth={1} />
      {xTicks.map(t => (
        <g key={'tx' + t}>
          <line x1={x(t)} x2={x(t)} y1={L.y1} y2={L.y1 - tickLen} stroke={AX} />
          <line x1={x(t)} x2={x(t)} y1={L.y0} y2={L.y0 + tickLen} stroke={AX} />
          <text x={x(t)} y={L.y1 + 42} textAnchor="middle" fontSize={31} fill={AX} fontFamily={FONT}>{String(t)}</text>
        </g>
      ))}
      {yTicks.map(t => (
        <g key={'ty' + t}>
          <line x1={L.x0} x2={L.x0 + tickLen} y1={y(t)} y2={y(t)} stroke={AX} />
          <line x1={L.x1} x2={L.x1 - tickLen} y1={y(t)} y2={y(t)} stroke={AX} />
          <text x={L.x0 - 10} y={y(t) + 11.5} textAnchor="end" fontSize={31} fill={AX} fontFamily={FONT}>{String(t)}</text>
        </g>
      ))}
      <text x={cx} y={L.titleY} textAnchor="middle" fontSize={34} fontWeight="bold" fill="#000" fontFamily={FONT}>{panelTitles[idx]}</text>
      {L.yLabel && (
        <text transform={`translate(${L.x0 - 84},${cy + 3}) rotate(-90)`} textAnchor="middle" fill={AX} fontFamily={FONT}>
          <tspan fontSize={32}>f</tspan>
          <tspan fontSize={27} dy={17}>44</tspan>
        </text>
      )}
      {L.xLabel && (
        <text x={cx} y={L.y1 + 87} textAnchor="middle" fill={AX} fontFamily={FONT}>
          <tspan fontSize={32}>f</tspan>
          <tspan fontSize={27} dy={18}>43</tspan>
        </text>
      )}
      {L.legend && (
        <g>
          <rect x={476} y={62} width={111} height={112} fill="#fff" stroke={AX} strokeWidth={1} />
          {seriesNames.map((n, i) => (
            <g key={n}>
              <circle cx={500} cy={82 + i * 37} r={3.4} fill={seriesColors[i]} />
              <text x={523} y={82 + i * 37 + 9.5} fontSize={27} fill="#000" fontFamily={FONT}>{n}</text>
            </g>
          ))}
        </g>
      )}
    </g>
  );
}

export default function App() {
  return (
    <svg width={1197} height={1231} style={{ position: 'absolute', left: 0, top: 0, background: '#fff' }}>
      <rect x={0} y={0} width={1197} height={1231} fill="#fff" />
      {[0, 1, 2, 3].map(i => (
        <Panel key={i} idx={i} />
      ))}
    </svg>
  );
}
